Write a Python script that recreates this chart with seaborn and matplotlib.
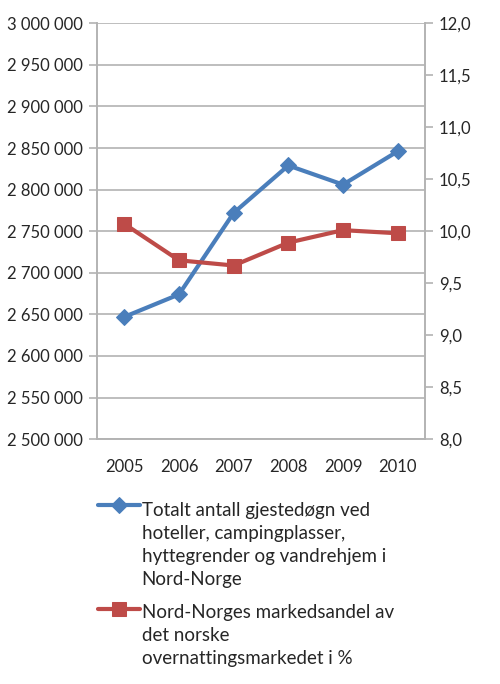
import pandas as pd
import seaborn as sns
import matplotlib.pyplot as plt
import matplotlib.ticker as ticker
from matplotlib.legend_handler import HandlerLine2D

sns.set_style("white")
plt.rcParams["font.family"] = ["Lato", "DejaVu Sans"]

YEARS = [2005, 2006, 2007, 2008, 2009, 2010]
GUEST_NIGHTS = [2647000, 2674000, 2772000, 2829000, 2806000, 2846000]
MARKET_SHARE = [10.07, 9.72, 9.67, 9.89, 10.01, 9.98]
LABEL_NIGHTS = "Totalt antall gjestedøgn ved\nhoteller, campingplasser,\nhyttegrender og vandrehjem i\nNord-Norge"
LABEL_SHARE = "Nord-Norges markedsandel av\ndet norske\novernattingsmarkedet i %"

BLUE = "#4A7EBB"
RED = "#BE4B48"
GRID = "#B3B3B3"
TEXT = "#262626"
FS = 12
LEG_FS = 13.5
LINESPACING = 1.6 * 12 / LEG_FS


class TopHandler(HandlerLine2D):
    # put the legend line next to the first text line instead of the middle
    def __init__(self, nlines, **kw):
        super().__init__(**kw)
        self.nlines = nlines

    def create_artists(self, legend, orig_handle, xdescent, ydescent,
                       width, height, fontsize, trans):
        artists = super().create_artists(legend, orig_handle, xdescent, ydescent,
                                         width, height, fontsize, trans)
        shift = (self.nlines - 1) / 2 * fontsize * LINESPACING
        for a in artists:
            y = a.get_ydata()
            a.set_ydata([v + shift for v in y])
        return artists


df = pd.DataFrame({"year": YEARS, "nights": GUEST_NIGHTS, "share": MARKET_SHARE})

fig = plt.figure(figsize=(5, 6.84), dpi=100)
ax = fig.add_axes([0.194, 0.358, 0.656, 0.608])
ax2 = ax.twinx()

sns.lineplot(data=df, x="year", y="nights", ax=ax, color=BLUE, linewidth=3,
             marker="D", markersize=8, markeredgecolor=BLUE, label=LABEL_NIGHTS, legend=False)
sns.lineplot(data=df, x="year", y="share", ax=ax2, color=RED, linewidth=3,
             marker="s", markersize=10, markeredgecolor=RED, label=LABEL_SHARE, legend=False)

ax.set_xlim(2004.5, 2010.5)
ax.set_ylim(2500000, 3000000)
ax2.set_ylim(8, 12)
ax.set_xlabel("")
ax.set_ylabel("")
ax2.set_ylabel("")

ax.yaxis.set_major_locator(ticker.MultipleLocator(50000))
ax.yaxis.set_major_formatter(ticker.FuncFormatter(lambda v, p: f"{int(v):,}".replace(",", " ")))
ax2.yaxis.set_major_locator(ticker.MultipleLocator(0.5))
ax2.yaxis.set_major_formatter(ticker.FuncFormatter(lambda v, p: f"{v:.1f}".replace(".", ",")))

ax.set_xticks(YEARS)
ax.set_xticks([y + 0.5 for y in [2004] + YEARS], minor=True)
ax.tick_params(axis="x", which="major", length=0, pad=14, labelsize=FS, labelcolor=TEXT)
ax.tick_params(axis="x", which="minor", length=6, width=1.2, color=GRID, direction="out")
ax.tick_params(axis="y", length=6, width=1.2, color=GRID, direction="out",
               labelsize=FS, labelcolor=TEXT, left=True, pad=4)
ax2.tick_params(axis="y", length=6, width=1.2, color=GRID, direction="out",
                labelsize=FS, labelcolor=TEXT, right=True, pad=4)

ax.grid(axis="y", color=GRID, linewidth=1.2)
ax.set_axisbelow(True)
for a in (ax, ax2):
    for side in ("left", "right", "bottom"):
        a.spines[side].set_color(GRID)
        a.spines[side].set_linewidth(1.2)
    a.spines["top"].set_visible(False)

h1, l1 = ax.get_legend_handles_labels()
h2, l2 = ax2.get_legend_handles_labels()
handles = h1 + h2
labels = l1 + l2
hmap = {h: TopHandler(lab.count("\n") + 1) for h, lab in zip(handles, labels)}
leg = fig.legend(handles, labels, loc="upper left", bbox_to_anchor=(0.177, 0.28),
                 frameon=False, fontsize=LEG_FS, handlelength=30 / LEG_FS,
                 handletextpad=1.44 / LEG_FS, labelspacing=12 / LEG_FS,
                 borderpad=0, handler_map=hmap)
for t in leg.get_texts():
    t.set_color(TEXT)
    t.set_linespacing(LINESPACING)

plt.savefig("out.png", dpi=100)
